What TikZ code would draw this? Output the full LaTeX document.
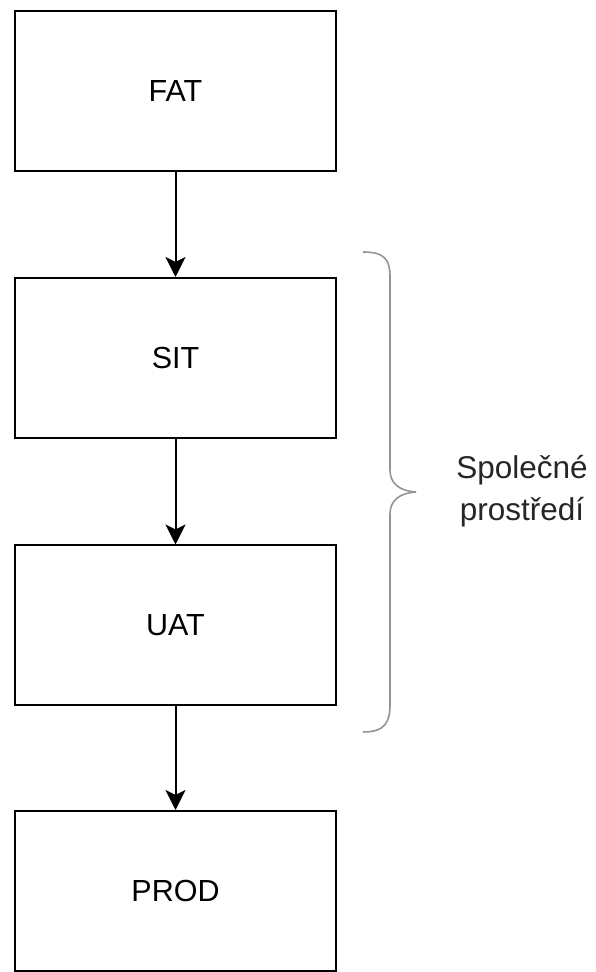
\documentclass[tikz,border=0pt]{standalone}
\usepackage{fontspec}
\setmainfont{Liberation Sans}
\usetikzlibrary{arrows.meta}
\begin{document}
\begin{tikzpicture}[x=1pt,y=1pt,
  envbox/.style={draw=black, line width=2pt, minimum width=321pt, minimum height=160pt, inner sep=0pt, font=\fontsize{30.5}{36}\selectfont},
  flow/.style={line width=2pt, -{Stealth[length=20pt,width=20pt,inset=5pt]}},
  bracestyle/.style={draw=black!42, line width=1.6pt}]
\useasboundingbox (0,0) rectangle (595,972);
\fill[white] (0,0) rectangle (595,972);
\node[envbox] (fat) at (175.5,880.5) {FAT};
\node[envbox] (sit) at (175.5,614) {SIT};
\node[envbox] (uat) at (175.5,346.5) {UAT};
\node[envbox] (prod) at (175.5,81) {PROD};
\draw[flow] (fat) -- (sit);
\draw[flow] (sit) -- (uat);
\draw[flow] (uat) -- (prod);
\coordinate (btop) at (363,720);
\coordinate (bbot) at (363,240);
\coordinate (btip) at (416,480);
\draw[bracestyle] (btop) .. controls (385,720) and (390,712) .. (390,695)
  -- (390,502) .. controls (390,488) and (400,481) .. (btip)
  .. controls (400,479) and (390,472) .. (390,458)
  -- (390,267) .. controls (390,250) and (385,240) .. (bbot);
\node[font=\fontsize{31.5}{42}\selectfont, align=center, text=black!85] (lbl) at (522,481) {Společné\\prostředí};
\end{tikzpicture}
\end{document}
